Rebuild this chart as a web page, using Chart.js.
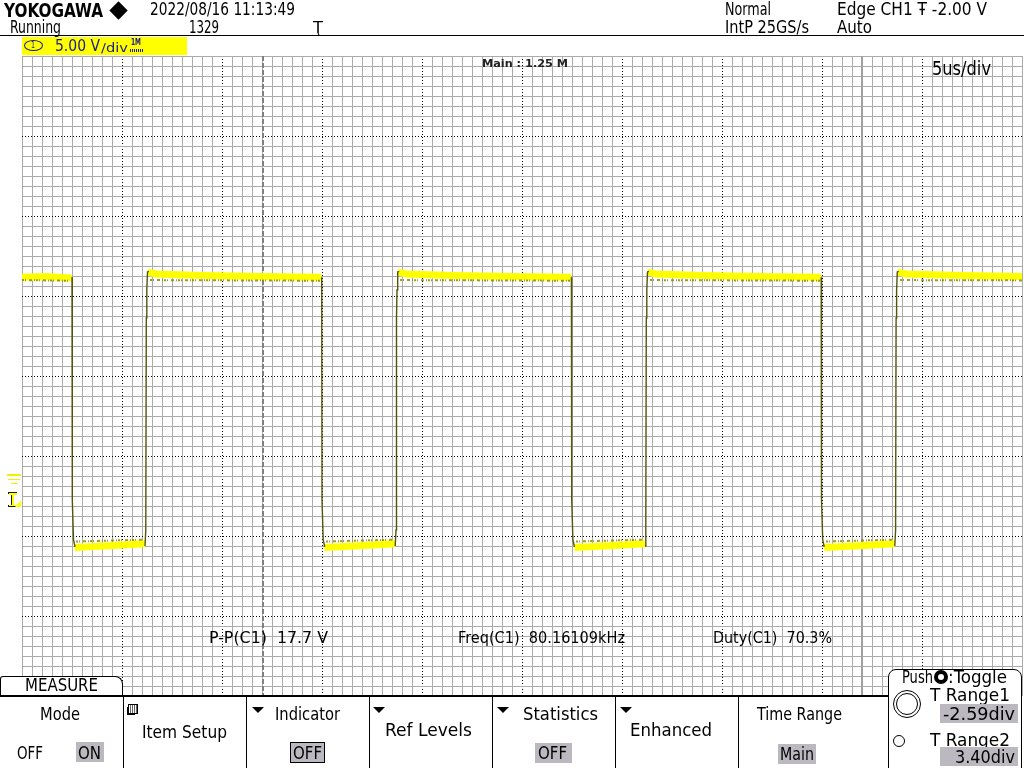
<!DOCTYPE html>
<html><head><meta charset="utf-8">
<script src="https://cdn.jsdelivr.net/npm/chart.js@4/dist/chart.umd.min.js"></script>
<style>
html,body{margin:0;padding:0;background:#fff;width:1024px;height:768px;overflow:hidden}
#wrap{position:relative;width:1024px;height:768px}
canvas{position:absolute;left:0;top:0}
#ov{position:absolute;left:0;top:0;width:1024px;height:768px}
.t{position:absolute;white-space:pre;font-family:"Liberation Sans Narrow","DejaVu Sans Condensed","Liberation Sans",sans-serif;color:#000;line-height:1;transform-origin:0 0}
.b{position:absolute;box-sizing:border-box}
</style></head><body><div id="wrap"><canvas id="c" width="1024" height="768"></canvas><div id="ov"></div></div>
<script>
// ---------- data ----------
const timePerDivUs = 5;          // 5us/div
const voltsPerDiv = 5;           // 5.00 V/div
const timeRangeUs = [-25, 25];   // 10 div
const voltRange = [-13.875, 26.125];
const triggerLevelV = -2.0;
const tRangeCursorsDiv = [-2.59, 3.40];

// thin edge transitions (null volts = gap)
const edgeTimeUs = [
  -22.500, -22.485, -22.425, -22.350, -20.6,
  -18.850, -18.810, -18.785, -18.760, -18.725, -18.650, -14.0,
  -10.015, -10.000, -9.940, -9.865, -8.0,
  -6.340, -6.300, -6.275, -6.250, -6.215, -6.140, -2.0,
  2.470, 2.485, 2.545, 2.620, 4.5,
  6.150, 6.190, 6.215, 6.240, 6.275, 6.350, 10.0,
  14.960, 14.975, 15.035, 15.110, 17.0,
  18.640, 18.680, 18.705, 18.730, 18.765, 18.840
];
const edgeVolts = [
  12.30, -1.60, -4.10, -4.56, null,
  -4.50, -3.50, 9.75, 11.50, 12.63, 12.66, null,
  12.30, -1.60, -4.10, -4.56, null,
  -4.50, -3.50, 9.75, 11.50, 12.63, 12.66, null,
  12.30, -1.60, -4.10, -4.56, null,
  -4.50, -3.50, 9.75, 11.50, 12.63, 12.66, null,
  12.30, -1.60, -4.10, -4.56, null,
  -4.50, -3.50, 9.75, 11.50, 12.63, 12.66
];
// thick plateaus (null volts = gap)
const plateauTimeUs = [
  -25.0, -23.8, -22.52, -22.45,
  -22.37, -20.6, -18.86, -18.8,
  -18.72, -18.3, -16.0, -13.0, -10.03, -9.95,
  -9.88, -8.1, -6.35, -6.28,
  -6.21, -5.8, -3.5, -0.5, 2.46, 2.54,
  2.62, 4.4, 6.14, 6.21,
  6.28, 6.7, 9.0, 12.0, 14.95, 15.03,
  15.11, 16.9, 18.63, 18.7,
  18.77, 19.2, 22.0, 25.0
];
const plateauVolts = [
  12.30, 12.35, 12.25, null,
  -4.60, -4.48, -4.36, null,
  12.62, 12.50, 12.40, 12.35, 12.30, null,
  -4.60, -4.48, -4.36, null,
  12.62, 12.50, 12.40, 12.35, 12.30, null,
  -4.60, -4.48, -4.36, null,
  12.62, 12.50, 12.40, 12.35, 12.30, null,
  -4.60, -4.48, -4.36, null,
  12.62, 12.50, 12.40, 12.35
];
// noise envelope (darker speckles): lower edge of high level, upper edge of low level
const noiseTimeUs = [
  -25.0, -22.55, -22.4,
  -22.3, -18.9, -18.7,
  -18.6, -10.05, -9.9,
  -9.8, -6.4, -6.2,
  -6.1, 2.45, 2.6,
  2.7, 6.1, 6.3,
  6.4, 14.94, 15.1,
  15.2, 18.6, 18.8,
  18.9, 25.0
];
const noiseVolts = [
  12.12, 12.08, null,
  -4.22, -4.10, null,
  12.12, 12.08, null,
  -4.22, -4.10, null,
  12.12, 12.08, null,
  -4.22, -4.10, null,
  12.12, 12.08, null,
  -4.22, -4.10, null,
  12.12, 12.10
];

// ---------- chart ----------
const toXY = (ts, vs) => ts.map((t, i) => ({x: t, y: vs[i]}));
const isMinorAtMajor = (v, every, last) => v % every === 0 && v !== 0 && v !== last;

const scopePlugin = {
  id: 'scope',
  beforeDatasetsDraw(chart) {
    const {ctx, chartArea: a, scales} = chart;
    const gx = scales.gxM;
    ctx.save();
    tRangeCursorsDiv.forEach((d, i) => {
      const px = Math.round(gx.getPixelForValue(5 + d));
      ctx.strokeStyle = i === 0 ? '#808080' : '#a0a0a0';
      ctx.lineWidth = 2;
      ctx.setLineDash(i === 0 ? [5, 2] : []);
      ctx.beginPath(); ctx.moveTo(px, a.top); ctx.lineTo(px, a.bottom); ctx.stroke();
    });
    ctx.restore();
  },
  afterDraw(chart) {
    const {ctx, scales} = chart;
    const y0 = Math.round(scales.y.getPixelForValue(0));
    const yt = Math.round(scales.y.getPixelForValue(triggerLevelV));
    ctx.save();
    ctx.fillStyle = '#f0f000';
    ctx.fillRect(7, y0, 14, 2);
    ctx.fillRect(8, y0 + 5, 12, 1);
    ctx.fillRect(11, y0 + 9, 7, 1);
    ctx.fillStyle = '#1a1a00';
    ctx.fillRect(8, yt - 14, 9, 2);
    ctx.fillRect(11, yt - 14, 3, 14);
    ctx.fillRect(8, yt - 1, 10, 2);
    ctx.fillStyle = '#ffff00';
    ctx.fillRect(9, yt - 13, 8, 2);
    ctx.fillRect(12, yt - 13, 2, 13);
    ctx.fillRect(9, yt - 1, 9, 1);
    ctx.beginPath(); ctx.moveTo(15, yt + 1); ctx.lineTo(21, yt + 1); ctx.lineTo(21, yt - 6); ctx.closePath(); ctx.fill();
    ctx.restore();
  }
};

const gridAxis = (max, step, colorFn, dash) => ({
  type: 'linear', min: 0, max: max, display: true,
  ticks: {display: false, stepSize: step},
  grid: {drawTicks: false, lineWidth: 1, color: colorFn},
  border: {display: false, dash: dash}
});

new Chart(document.getElementById('c'), {
  type: 'line',
  data: {
    datasets: [
      {label: 'edges', data: toXY(edgeTimeUs, edgeVolts), borderColor: '#55550a', borderWidth: 1.4,
       pointRadius: 0, tension: 0, spanGaps: false, xAxisID: 'x', yAxisID: 'y'},
      {label: 'noise', data: toXY(noiseTimeUs, noiseVolts), borderColor: 'rgba(140,140,0,0.85)', borderWidth: 2,
       borderDash: [2, 1, 1, 3, 3, 2, 1, 1], pointRadius: 0, tension: 0, spanGaps: false, xAxisID: 'x', yAxisID: 'y'},
      {label: 'CH1', data: toXY(plateauTimeUs, plateauVolts), borderColor: '#ffff00', borderWidth: 7,
       pointRadius: 0, tension: 0, spanGaps: false, xAxisID: 'x', yAxisID: 'y'}
    ]
  },
  options: {
    responsive: false, animation: false, devicePixelRatio: 1,
    layout: {padding: {left: 22, top: 56, right: 2, bottom: 72}},
    plugins: {legend: {display: false}, tooltip: {enabled: false}},
    scales: {
      gx: Object.assign(gridAxis(100, 1, c => isMinorAtMajor(c.tick.value, 10, 100) ? 'rgba(0,0,0,0)' : '#ababab'), {axis: 'x', position: 'bottom'}),
      gxM: Object.assign(gridAxis(10, 1, c => (c.tick.value > 0 && c.tick.value < 10) ? '#000' : 'rgba(0,0,0,0)', [1, 2]), {axis: 'x', position: 'bottom'}),
      gy: Object.assign(gridAxis(64, 1, c => isMinorAtMajor(c.tick.value, 8, 64) ? 'rgba(0,0,0,0)' : '#ababab'), {axis: 'y', position: 'left'}),
      gyM: Object.assign(gridAxis(8, 1, c => (c.tick.value > 0 && c.tick.value < 8) ? '#000' : 'rgba(0,0,0,0)', [1, 2]), {axis: 'y', position: 'left'}),
      x: {type: 'linear', min: timeRangeUs[0], max: timeRangeUs[1], display: false},
      y: {type: 'linear', min: voltRange[0], max: voltRange[1], display: false}
    }
  },
  plugins: [scopePlugin]
});

// ---------- screen text ----------
const ov = document.getElementById('ov');
function box(x, y, w, h, css) {
  const d = document.createElement('div'); d.className = 'b';
  Object.assign(d.style, {left: x + 'px', top: y + 'px', width: w + 'px', height: h + 'px'}, css || {});
  ov.appendChild(d); return d;
}
function label(txt, x, capTop, fs, w, o) {
  o = o || {};
  const d = document.createElement('div'); d.className = 't'; d.textContent = txt;
  d.style.fontSize = fs + 'px'; d.style.left = x + 'px'; d.style.top = (capTop - 0.12 * fs) + 'px';
  if (o.bold) d.style.fontWeight = 'bold';
  if (o.color) d.style.color = o.color;
  ov.appendChild(d);
  if (w) { const mw = d.getBoundingClientRect().width; d.style.transform = 'scaleX(' + (w / mw) + ')'; }
  return d;
}
function tri(x, y) { box(x, y, 0, 0, {borderLeft: '6px solid transparent', borderRight: '6px solid transparent', borderTop: '6px solid #000'}); }

// header
label('YOKOGAWA', 4, 3, 19, 99, {bold: true});
box(112, 4, 13, 13, {background: '#000', transform: 'rotate(45deg)'});
label('2022/08/16 11:13:49', 150, 3, 17, 145);
label('Running', 10, 21, 17, 51);
label('1329', 189, 21, 17, 30);
label('Ţ', 313, 22, 16, 10);
label('Normal', 725, 3, 17, 46);
label('IntP 25GS/s', 725, 21, 17, 84);
label('Edge CH1 Ŧ -2.00 V', 837, 3, 17, 150);
label('Auto', 837, 21, 17, 35);
box(0, 35, 1024, 1, {background: '#000'});

// channel box
box(22, 37, 165, 18, {background: '#ffff00'});
box(24, 40, 19, 11, {border: '1px solid #1a1a8c', borderRadius: '50%'});
label('1', 31, 42, 9, 4, {color: '#1a1a8c'});
label('5.00 V', 55, 40, 16, 45, {color: '#1a1a8c'});
label('/div', 101, 43, 12, 27, {color: '#1a1a8c'});
label('1M', 131, 40, 8, 10, {color: '#1a1a8c', bold: true});
box(130, 49, 13, 3, {background: 'repeating-linear-gradient(90deg,#1a1a8c 0 1px,#ffff00 1px 2px)'});

// plot texts
label('Main : 1.25 M', 482, 60, 10, 86, {bold: true, color: '#222'});
label('5us/div', 932, 60, 20, 59);
label('P-P(C1)  17.7 V', 209, 632, 16, 119);
label('Freq(C1)  80.16109kHz', 458, 632, 16, 167);
label('Duty(C1)  70.3%', 713, 632, 16, 119);

// menu
box(0, 676, 123, 21, {border: '1px solid #000', borderBottom: 'none', borderRadius: '3px 8px 0 0', background: '#fff'});
label('MEASURE', 25, 679, 17, 73);
box(0, 695, 888, 2, {background: '#000'});
[123, 246, 369, 492, 615, 738].forEach(x => box(x, 696, 1, 72, {background: '#000'}));
label('Mode', 40, 707, 18, 40);
label('OFF', 17, 746, 18, 26);
box(76, 742, 28, 20, {background: '#bcb8c0'});
label('ON', 78, 746, 18, 23);
box(128, 704, 10, 10, {border: '1px solid #000', boxShadow: '-2px 2px 0 -1px #000', background: 'repeating-linear-gradient(90deg,#fff 0 1px,#666 1px 2px)'});
label('Item Setup', 142, 725, 18, 85);
tri(252, 707); label('Indicator', 275, 707, 18, 65);
box(290, 742, 35, 21, {background: '#bcb8c0', border: '1px solid #000'});
label('OFF', 293, 746, 18, 29);
tri(373, 707); label('Ref Levels', 385, 723, 18, 87);
tri(497, 707); label('Statistics', 523, 707, 18, 75);
box(535, 743, 37, 20, {background: '#bcb8c0'});
label('OFF', 538, 746, 18, 29);
tri(620, 707); label('Enhanced', 630, 723, 18, 82);
label('Time Range', 757, 707, 18, 85);
box(778, 744, 38, 20, {background: '#bcb8c0'});
label('Main', 780, 747, 18, 34);

// knob panel
box(888, 669, 134, 110, {border: '1px solid #000', borderRadius: '8px', background: '#fff'});
label('Push', 902, 671, 17, 31);
box(934, 670, 14, 14, {border: '4px solid #000', borderRadius: '50%'});
label(':Toggle', 948, 671, 17, 59);
box(893, 690, 28, 28, {border: '1.5px solid #000', borderRadius: '50%'});
box(896, 693, 22, 22, {border: '1px solid #000', borderRadius: '50%'});
label('T Range1', 930, 688, 18, 80);
box(940, 704, 78, 19, {background: '#bcb8c0'});
label('-2.59div', 943, 707, 18, 72);
box(893, 735, 12, 12, {border: '1px solid #000', borderRadius: '50%'});
label('T Range2', 930, 733, 18, 80);
box(940, 747, 78, 19, {background: '#bcb8c0'});
label('3.40div', 955, 750, 18, 60);
</script></body></html>
